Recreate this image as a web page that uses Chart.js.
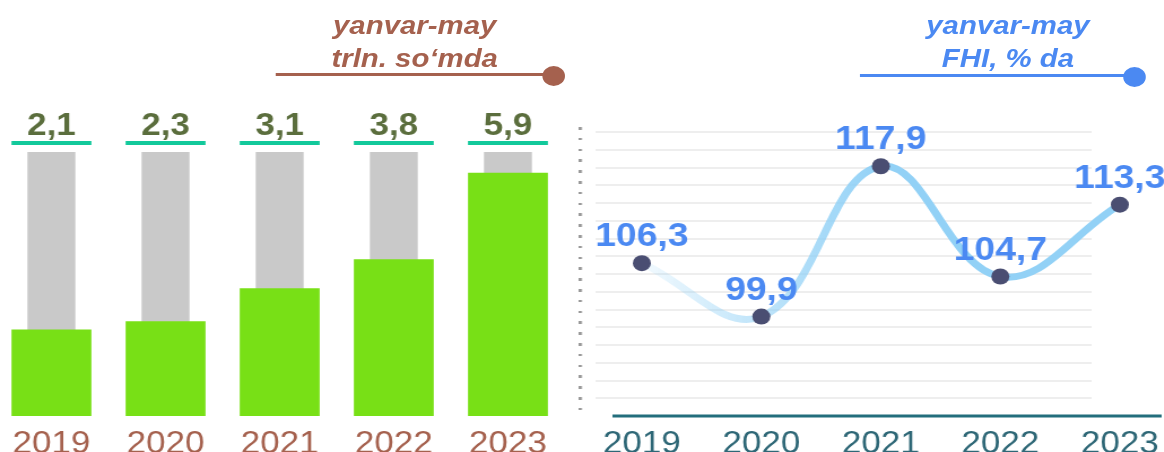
<!DOCTYPE html>
<html>
<head>
<meta charset="utf-8">
<script src="https://cdn.jsdelivr.net/npm/chart.js@4"></script>
<style>
  html, body { margin: 0; padding: 0; background: #fff; overflow: hidden; }
  #wrap { position: relative; width: 1030px; height: 452px; transform: scaleX(1.13); transform-origin: 0 0; }
  .box { position: absolute; top: 0; height: 452px; }
  .title { position: absolute; top: 9px; width: 300px; text-align: center;
           font: italic bold 26px/33px 'Liberation Sans', Arial, sans-serif; }
  .rule { position: absolute; height: 3px; }
  .dot { position: absolute; width: 20px; height: 20px; border-radius: 50%; }
  #dots { position: absolute; left: 512px; top: 127px; width: 2.6px; height: 287px;
          background: repeating-linear-gradient(to bottom, #9a9a9a 0 2.6px, transparent 2.6px 10.8px); }
</style>
</head>
<body>
<div id="wrap">
  <div class="box" style="left:-5px;width:505px"><canvas id="bars"></canvas></div>
  <div class="box" style="left:510px;width:520px"><canvas id="line"></canvas></div>
  <div id="dots"></div>

  <div class="title" style="left:217px;color:#a5614e">yanvar-may<br>trln. so‘mda</div>
  <div class="rule" style="left:244px;top:73px;width:246px;background:#a5614e"></div>
  <div class="dot" style="left:480px;top:66px;background:#a5614e"></div>

  <div class="title" style="left:742px;color:#4b89f2">yanvar-may<br>FHI, % da</div>
  <div class="rule" style="left:761px;top:74px;width:243px;background:#4b89f2"></div>
  <div class="dot" style="left:994px;top:67px;background:#4b89f2"></div>
</div>

<script>
const years = ['2019', '2020', '2021', '2022', '2023'];
const volumes = [2.1, 2.3, 3.1, 3.8, 5.9];      // trln. so'm
const indices = [106.3, 99.9, 117.9, 104.7, 113.3]; // FHI, %
const trackMax = 6.4;

const font = "'Liberation Sans', Arial, sans-serif";
const fmt = (v) => v.toFixed(1).replace('.', ',');

// teal caps and value labels over the bars
const barLabels = {
  id: 'barLabels',
  afterDatasetsDraw(chart) {
    const ctx = chart.ctx;
    const top = chart.chartArea.top;
    const meta = chart.getDatasetMeta(0);
    ctx.save();
    meta.data.forEach((bar, i) => {
      ctx.fillStyle = '#12c99b';
      ctx.fillRect(bar.x - bar.width / 2, top - 11, bar.width, 4);
      ctx.fillStyle = '#5b6e3d';
      ctx.font = 'bold 31px ' + font;
      ctx.textAlign = 'center';
      ctx.textBaseline = 'alphabetic';
      ctx.fillText(fmt(volumes[i]), bar.x, top - 17);
    });
    ctx.restore();
  }
};

new Chart(document.getElementById('bars'), {
  type: 'bar',
  data: {
    labels: years,
    datasets: [
      {
        data: volumes,
        backgroundColor: '#78e016',
        barPercentage: 0.7,
        categoryPercentage: 1,
        grouped: false,
        order: 0
      },
      {
        data: years.map(() => trackMax),
        backgroundColor: '#c9c9c9',
        barPercentage: 0.42,
        categoryPercentage: 1,
        grouped: false,
        order: 1
      }
    ]
  },
  options: {
    responsive: true,
    maintainAspectRatio: false,
    animation: false,
    layout: { padding: { top: 152, left: 0, right: 0, bottom: 0 } },
    plugins: { legend: { display: false }, tooltip: { enabled: false } },
    scales: {
      x: {
        grid: { display: false },
        border: { display: false },
        ticks: { color: '#a5614e', font: { family: font, size: 31 }, padding: 2, maxRotation: 0 },
        afterFit(scale) { scale.height = 36; }
      },
      y: { display: false, min: 0, max: trackMax }
    }
  },
  plugins: [barLabels]
});

// grid, base line and point labels for the index chart
const lineDecor = {
  id: 'lineDecor',
  beforeDatasetsDraw(chart) {
    const { ctx, chartArea } = chart;
    const y = chart.scales.y;
    ctx.save();
    ctx.strokeStyle = '#eeeeee';
    ctx.lineWidth = 2;
    y.ticks.forEach((t) => {
      const py = Math.round(y.getPixelForValue(t.value));
      if (py >= chartArea.bottom - 2) return;
      ctx.beginPath();
      ctx.moveTo(chartArea.left - 41, py);
      ctx.lineTo(chartArea.right - 25, py);
      ctx.stroke();
    });
    ctx.strokeStyle = '#236e7c';
    ctx.lineWidth = 3;
    ctx.beginPath();
    ctx.moveTo(chartArea.left - 26, chartArea.bottom);
    ctx.lineTo(chartArea.right + 37, chartArea.bottom);
    ctx.stroke();
    ctx.restore();
  },
  afterDatasetsDraw(chart) {
    const ctx = chart.ctx;
    const meta = chart.getDatasetMeta(0);
    ctx.save();
    ctx.fillStyle = '#4b89f2';
    ctx.font = 'bold 33px ' + font;
    ctx.textAlign = 'center';
    ctx.textBaseline = 'alphabetic';
    meta.data.forEach((pt, i) => {
      ctx.fillText(fmt(indices[i]), pt.x, pt.y - 17);
    });
    ctx.restore();
  }
};

new Chart(document.getElementById('line'), {
  type: 'line',
  data: {
    labels: years,
    datasets: [{
      data: indices,
      borderWidth: 7,
      tension: 0.4,
      borderColor(c) {
        const chart = c.chart;
        if (!chart.chartArea) return '#92d1f6';
        const x = chart.scales.x;
        const g = chart.ctx.createLinearGradient(x.getPixelForValue(0), 0, x.getPixelForValue(2), 0);
        g.addColorStop(0, 'rgba(146,209,246,0.12)');
        g.addColorStop(0.45, 'rgba(146,209,246,0.55)');
        g.addColorStop(1, 'rgba(146,209,246,1)');
        return g;
      },
      pointRadius: 8,
      pointBorderWidth: 0,
      pointBackgroundColor: '#4a4e72',
      clip: false
    }]
  },
  options: {
    responsive: true,
    maintainAspectRatio: false,
    animation: false,
    layout: { padding: { top: 132, left: 58, right: 39, bottom: 0 } },
    plugins: { legend: { display: false }, tooltip: { enabled: false } },
    scales: {
      x: {
        offset: false,
        grid: { display: false },
        border: { display: false },
        ticks: { color: '#2e6776', font: { family: font, size: 31 }, padding: 2, maxRotation: 0 },
        afterFit(scale) { scale.height = 36; }
      },
      y: {
        display: false,
        min: 88,
        max: 122,
        ticks: { stepSize: 2.125, maxTicksLimit: 20 }
      }
    }
  },
  plugins: [lineDecor]
});
</script>
</body>
</html>
